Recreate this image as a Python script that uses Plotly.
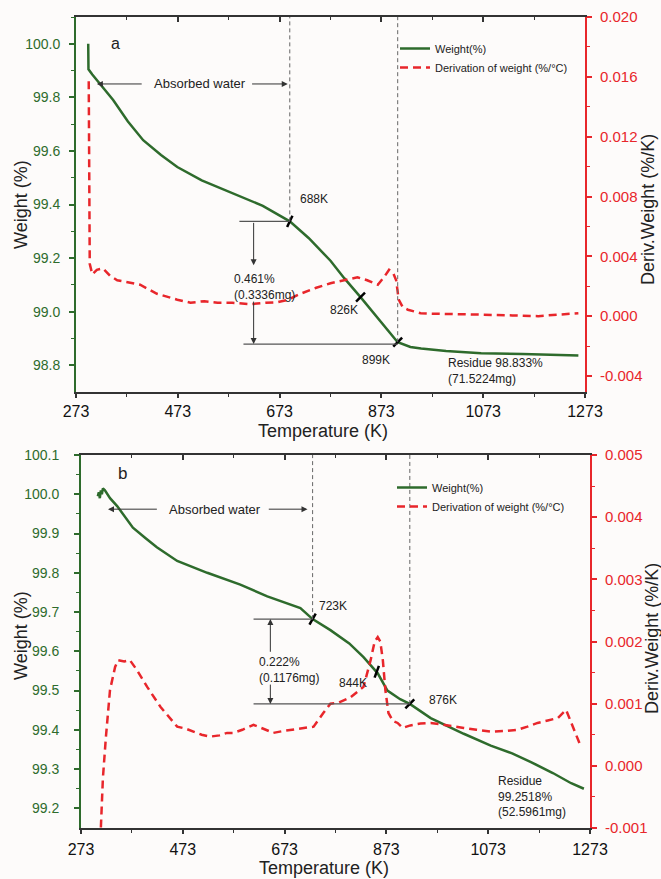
import plotly.graph_objects as go

# ---------------- data: panel a ----------------
T_a = [297, 297.5, 305, 320, 346, 375, 405, 440, 472, 520, 582, 640, 693, 730, 773, 800, 832, 870, 905, 930, 951, 1000, 1069, 1150, 1200, 1260]
W_a = [100.0, 99.905, 99.885, 99.85, 99.79, 99.71, 99.64, 99.585, 99.54, 99.49, 99.44, 99.395, 99.337, 99.275, 99.19, 99.125, 99.054, 98.965, 98.886, 98.868, 98.862, 98.853, 98.845, 98.842, 98.840, 98.836]

DT_a = [298, 299, 300, 305, 314, 326, 340, 354, 380, 399, 432, 472, 498, 525, 551, 580, 616, 645, 669, 690, 714, 745, 773, 800, 826, 845, 866, 878, 888, 896, 902, 907, 915, 925, 950, 970, 1020, 1069, 1130, 1181, 1220, 1260]
D_a = [0.0157, 0.009, 0.0035, 0.0028, 0.0031, 0.0032, 0.0027, 0.0024, 0.0022, 0.0021, 0.0015, 0.0011, 0.0009, 0.0010, 0.0009, 0.0009, 0.0008, 0.0009, 0.00093, 0.0011, 0.0015, 0.0019, 0.0022, 0.0024, 0.0026, 0.0024, 0.0021, 0.0026, 0.0031, 0.0029, 0.0024, 0.0011, 0.0006, 0.00043, 0.0002, 0.00017, 0.00015, 0.0001, 0.00005, 0.0, 0.0001, 0.0002]

mark_T_a = [693, 832, 905]
mark_W_a = [99.337, 99.054, 98.886]

# ---------------- data: panel b ----------------
T_b = [306, 308, 310, 312, 314, 316, 320, 330, 344, 360, 375, 400, 422, 462, 521, 586, 639, 704, 728, 763, 800, 828, 856, 875, 900, 919, 960, 1025, 1078, 1120, 1157, 1200, 1236, 1261]
W_b = [99.995, 100.005, 99.99, 100.01, 100.0, 100.015, 100.01, 99.99, 99.97, 99.94, 99.915, 99.888, 99.865, 99.83, 99.80, 99.77, 99.74, 99.71, 99.682, 99.654, 99.62, 99.585, 99.544, 99.50, 99.478, 99.466, 99.43, 99.39, 99.36, 99.34, 99.318, 99.29, 99.264, 99.25]

DT_b = [311, 316, 322, 330, 340, 346, 358, 369, 383, 403, 429, 445, 462, 478, 494, 510, 527, 545, 560, 572, 590, 612, 630, 651, 670, 690, 710, 730, 749, 763, 780, 802, 828, 842, 850, 856, 861, 866, 871, 877, 886, 895, 905, 920, 940, 960, 985, 1005, 1025, 1050, 1078, 1105, 1131, 1150, 1170, 1190, 1210, 1226, 1236, 1246, 1255]
D_b = [-0.0012, -0.0002, 0.00047, 0.00122, 0.00159, 0.0017, 0.00168, 0.0017, 0.00154, 0.00127, 0.00095, 0.0008, 0.00063, 0.0006, 0.00055, 0.0005, 0.00047, 0.00049, 0.00053, 0.00053, 0.00058, 0.00066, 0.0006, 0.00053, 0.00056, 0.00058, 0.0006, 0.00063, 0.00085, 0.001, 0.00102, 0.0011, 0.00127, 0.0017, 0.002, 0.00207, 0.0020, 0.0017, 0.00122, 0.00085, 0.00072, 0.00069, 0.00061, 0.00065, 0.00068, 0.00069, 0.00066, 0.00063, 0.00061, 0.00058, 0.00055, 0.00056, 0.00058, 0.00063, 0.00069, 0.00073, 0.00077, 0.0009, 0.00069, 0.00047, 0.00031]

mark_T_b = [728, 854, 919]
mark_W_b = [99.682, 99.548, 99.466]

x_ticks = [273, 473, 673, 873, 1073, 1273]

GREEN = "#2e6b2c"
RED = "#e8262b"
DARK = "#222222"
BG = "#fdfbfa"
FONT = "Arial, Liberation Sans, sans-serif"
W, H = 661, 879

def px_x(p):
    return p / W

def px_y(p):
    return 1 - p / H

fig = go.Figure()

# panel a traces
fig.add_trace(go.Scatter(x=T_a, y=W_a, mode="lines", name="Weight(%)",
                         line=dict(color=GREEN, width=2.5), xaxis="x", yaxis="y", legend="legend"))
fig.add_trace(go.Scatter(x=DT_a, y=D_a, mode="lines", name="Derivation of weight (%/°C)",
                         line=dict(color=RED, width=2.5, dash="8px,5px"), xaxis="x", yaxis="y2", legend="legend"))
fig.add_trace(go.Scatter(x=mark_T_a, y=mark_W_a, mode="markers", showlegend=False,
                         marker=dict(symbol="line-ns", size=9, angle=[25, 45, 45],
                                     line=dict(color="black", width=2.5)),
                         xaxis="x", yaxis="y"))
# panel b traces
fig.add_trace(go.Scatter(x=T_b, y=W_b, mode="lines", name="Weight(%)",
                         line=dict(color=GREEN, width=2.5), xaxis="x2", yaxis="y3", legend="legend2"))
fig.add_trace(go.Scatter(x=DT_b, y=D_b, mode="lines", name="Derivation of weight (%/°C)",
                         line=dict(color=RED, width=2.5, dash="8px,5px"), xaxis="x2", yaxis="y4", legend="legend2"))
fig.add_trace(go.Scatter(x=mark_T_b, y=mark_W_b, mode="markers", showlegend=False,
                         marker=dict(symbol="line-ns", size=9, angle=[30, 20, 45],
                                     line=dict(color="black", width=2.5)),
                         xaxis="x2", yaxis="y3"))
# dummy traces for top mirror axes
fig.add_trace(go.Scatter(x=[None], y=[None], xaxis="x3", yaxis="y", showlegend=False))
fig.add_trace(go.Scatter(x=[None], y=[None], xaxis="x4", yaxis="y3", showlegend=False))

# domains
xa_dom = [px_x(76), px_x(585)]
xb_dom = [px_x(81), px_x(590)]
ya_dom = [px_y(392), px_y(17)]
yb_dom = [px_y(828), px_y(455)]

xcommon = dict(range=[273, 1273], tickvals=x_ticks, ticks="outside", ticklen=4, tickwidth=1.5,
               tickcolor="#333", showline=True, linecolor="#333", linewidth=2, showgrid=False,
               zeroline=False, tickfont=dict(family=FONT, size=16, color="#111"), automargin=False,
               minor=dict(tickvals=[373, 573, 773, 973, 1173], ticks="outside", ticklen=3,
                          tickcolor="#333", tickwidth=1.2))
xtop = dict(range=[273, 1273], tickvals=x_ticks, ticks="inside", ticklen=5, tickwidth=1.5,
            tickcolor="#333", showline=True, linecolor="#333", linewidth=2, showgrid=False,
            zeroline=False, showticklabels=False, side="top", automargin=False,
            minor=dict(tickvals=[373, 573, 773, 973, 1173], ticks="inside", ticklen=3,
                       tickcolor="#333", tickwidth=1.2))

fig.update_layout(
    width=W, height=H, margin=dict(l=0, r=0, t=0, b=0, autoexpand=False),
    paper_bgcolor=BG, plot_bgcolor=BG,
    font=dict(family=FONT, color=DARK),
    xaxis=dict(domain=xa_dom, anchor="y", ticklabelstandoff=0, **xcommon),
    xaxis3=dict(domain=xa_dom, anchor="y", overlaying="x", **xtop),
    yaxis=dict(domain=ya_dom, anchor="x", range=[98.7, 100.1], tickvals=[98.8, 99.0, 99.2, 99.4, 99.6, 99.8, 100.0],
               ticktext=["98.8", "99.0", "99.2", "99.4", "99.6", "99.8", "100.0"], automargin=False,
               ticks="outside", ticklen=5, tickwidth=1.5, tickcolor=GREEN, showline=True, linecolor=GREEN,
               linewidth=2, showgrid=False, zeroline=False, ticklabelstandoff=6,
               tickfont=dict(family=FONT, size=14, color=GREEN),
               minor=dict(tickvals=[98.9, 99.1, 99.3, 99.5, 99.7, 99.9, 100.1], ticks="outside", ticklen=3,
                          tickcolor=GREEN, tickwidth=1.2)),
    yaxis2=dict(overlaying="y", side="right", anchor="x", range=[-0.00507, 0.020], automargin=False,
                tickvals=[-0.004, 0.0, 0.004, 0.008, 0.012, 0.016, 0.020],
                ticktext=["-0.004", "0.000", "0.004", "0.008", "0.012", "0.016", "0.020"],
                ticks="outside", ticklen=5, tickwidth=1.5, tickcolor=RED, showline=True, linecolor=RED,
                linewidth=2, showgrid=False, zeroline=False, ticklabelstandoff=5,
                tickfont=dict(family=FONT, size=15, color=RED),
                minor=dict(tickvals=[-0.002, 0.002, 0.006, 0.010, 0.014, 0.018], ticks="outside", ticklen=3,
                           tickcolor=RED, tickwidth=1.2)),
    xaxis2=dict(domain=xb_dom, anchor="y3", ticklabelstandoff=2, **xcommon),
    xaxis4=dict(domain=xb_dom, anchor="y3", overlaying="x2", **xtop),
    yaxis3=dict(domain=yb_dom, anchor="x2", range=[99.15, 100.1], automargin=False,
                tickvals=[99.2, 99.3, 99.4, 99.5, 99.6, 99.7, 99.8, 99.9, 100.0, 100.1],
                ticktext=["99.2", "99.3", "99.4", "99.5", "99.6", "99.7", "99.8", "99.9", "100.0", "100.1"],
                ticks="outside", ticklen=5, tickwidth=1.5, tickcolor=GREEN, showline=True, linecolor=GREEN,
                linewidth=2, showgrid=False, zeroline=False, ticklabelstandoff=12,
                tickfont=dict(family=FONT, size=14, color=GREEN),
                minor=dict(tickvals=[99.25, 99.35, 99.45, 99.55, 99.65, 99.75, 99.85, 99.95, 100.05],
                           ticks="outside", ticklen=3, tickcolor=GREEN, tickwidth=1.2)),
    yaxis4=dict(overlaying="y3", side="right", anchor="x2", range=[-0.001, 0.005], automargin=False,
                tickvals=[-0.001, 0.0, 0.001, 0.002, 0.003, 0.004, 0.005],
                ticktext=["-0.001", "0.000", "0.001", "0.002", "0.003", "0.004", "0.005"],
                ticks="outside", ticklen=5, tickwidth=1.5, tickcolor=RED, showline=True, linecolor=RED,
                linewidth=2, showgrid=False, zeroline=False, ticklabelstandoff=5,
                tickfont=dict(family=FONT, size=15, color=RED),
                minor=dict(tickvals=[-0.0005, 0.0005, 0.0015, 0.0025, 0.0035, 0.0045], ticks="outside",
                           ticklen=3, tickcolor=RED, tickwidth=1.2)),
    legend=dict(x=px_x(395), y=px_y(34), xanchor="left", yanchor="top", bgcolor="rgba(0,0,0,0)",
                font=dict(family=FONT, size=11, color=DARK), tracegroupgap=0, itemwidth=30),
    legend2=dict(x=px_x(392), y=px_y(473), xanchor="left", yanchor="top", bgcolor="rgba(0,0,0,0)",
                 font=dict(family=FONT, size=11, color=DARK), tracegroupgap=0, itemwidth=30),
    showlegend=True,
)

shapes = []
def hline(xr, yr, x0, x1, y):
    shapes.append(dict(type="line", xref=xr, yref=yr, x0=x0, x1=x1, y0=y, y1=y,
                       line=dict(color="#555", width=1.2)))
def vdash(xr, yr, x, y0, y1):
    shapes.append(dict(type="line", xref=xr, yref=yr, x0=x, x1=x, y0=y0, y1=y1,
                       line=dict(color="#666", width=1, dash="4px,3px")))

# panel a
hline("x", "y", 594, 693, 99.337)
hline("x", "y", 602, 905, 98.879)
vdash("x", "y", 693, 99.337, 100.1)
vdash("x", "y", 905, 98.886, 100.1)
# panel b
hline("x2", "y3", 612, 728, 99.682)
hline("x2", "y3", 612, 919, 99.466)
vdash("x2", "y3", 728, 99.682, 100.1)
vdash("x2", "y3", 919, 99.466, 100.1)
fig.update_layout(shapes=shapes)

ann = []
def text(xr, yr, x, y, t, size=12, xanchor="center", align="center", bold=False):
    ann.append(dict(xref=xr, yref=yr, x=x, y=y, text=t, showarrow=False, xanchor=xanchor, align=align,
                    font=dict(family=FONT, size=size, color=DARK)))
def arrow(xr, yr, hx, hy, tx, ty):
    ann.append(dict(xref=xr, yref=yr, axref=xr, ayref=yr, x=hx, y=hy, ax=tx, ay=ty, text="",
                    showarrow=True, arrowhead=2, arrowsize=1.2, arrowwidth=1, arrowcolor="#333"))
def paper_text(x, y, t, size=18, angle=0, color=DARK):
    ann.append(dict(xref="paper", yref="paper", x=px_x(x), y=px_y(y), text=t, showarrow=False,
                    textangle=angle, xanchor="center", yanchor="middle",
                    font=dict(family=FONT, size=size, color=color)))

# panel a annotations
text("x", "y", 350, 100.0, "a", size=16)
text("x", "y", 517, 99.85, "Absorbed water", size=13)
arrow("x", "y", 314, 99.85, 405, 99.85)
arrow("x", "y", 689, 99.85, 616, 99.85)
text("x", "y", 740, 99.42, "688K", size=12)
text("x", "y", 799, 99.006, "826K", size=12)
text("x", "y", 862, 98.82, "899K", size=12)
text("x", "y", 580, 99.091, "0.461%<br>(0.3336mg)", size=12, xanchor="left", align="left")
arrow("x", "y", 622, 99.173, 622, 99.337)
arrow("x", "y", 622, 98.879, 622, 99.043)
text("x", "y", 1000, 98.778, "Residue 98.833%<br>(71.5224mg)", size=12, xanchor="left", align="left")

# panel b annotations
text("x2", "y3", 354, 100.053, "b", size=17)
text("x2", "y3", 537, 99.962, "Absorbed water", size=13)
arrow("x2", "y3", 326, 99.962, 425, 99.962)
arrow("x2", "y3", 718, 99.962, 639, 99.962)
text("x2", "y3", 769, 99.715, "723K", size=12)
text("x2", "y3", 808, 99.519, "844K", size=12)
text("x2", "y3", 984, 99.476, "876K", size=12)
text("x2", "y3", 619, 99.552, "0.222%<br>(0.1176mg)", size=12, xanchor="left", align="left")
arrow("x2", "y3", 645, 99.682, 645, 99.595)
arrow("x2", "y3", 645, 99.466, 645, 99.519)
text("x2", "y3", 1088, 99.231, "Residue<br>99.2518%<br>(52.5961mg)", size=12, xanchor="left", align="left")

# axis titles
paper_text(21, 205, "Weight (%)", angle=-90)
paper_text(648, 210, "Deriv.Weight (%/K)", angle=-90)
paper_text(323, 431, "Temperature (K)")
paper_text(21, 636, "Weight (%)", angle=-90)
paper_text(652, 639, "Deriv.Weight (%/K)", angle=-90)
paper_text(324, 868, "Temperature (K)")

fig.update_layout(annotations=ann)

fig.write_html("out.html")
